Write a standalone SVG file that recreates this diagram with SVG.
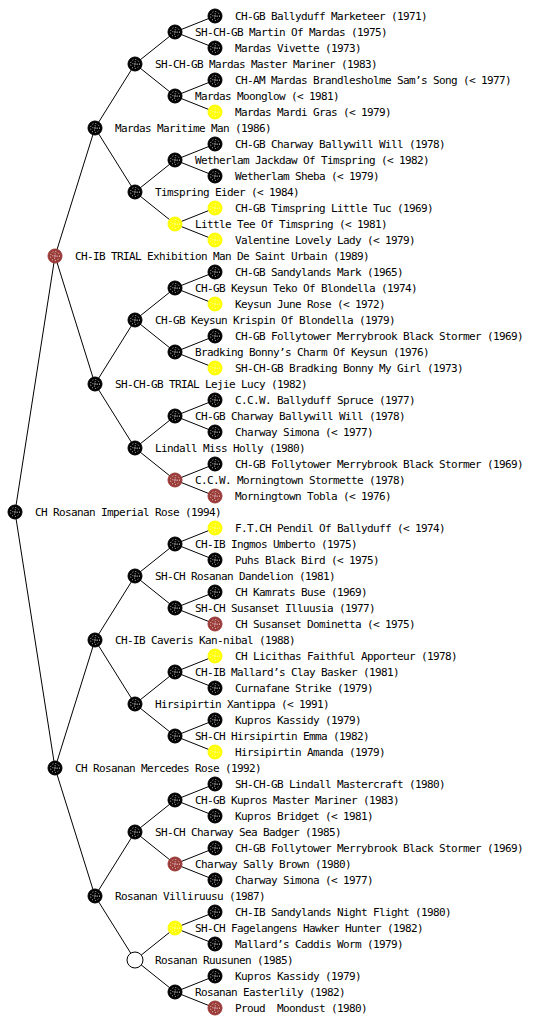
<svg xmlns="http://www.w3.org/2000/svg" width="560" height="1024" viewBox="0 0 560 1024">
<style>
text{font-family:"DejaVu Sans Mono","Liberation Mono",monospace;font-size:11px;letter-spacing:-0.62px;fill:#000}
.n{stroke:#000;stroke-width:1}
.b{fill:#000}
.y{fill:#ffff00;stroke:#ffff00}
.r{fill:#9b3b38;stroke:#9b3b38}
.w{fill:#fff}
.d{fill:none;stroke:#fff;stroke-width:0.8;stroke-dasharray:1 2}
.c{fill:none;stroke:#000;stroke-width:1}
</style>
<defs>
<g id="dots"><circle r="4.5" class="d"/><circle r="2.2" class="d"/><circle r="0.7" fill="#fff"/></g>
</defs>
<rect width="560" height="1024" fill="#fff"/>
<g id="connectors">
<path class="c" d="M15 512L55 256M15 512L55 768
M55 256L95 128M55 256L95 384M55 768L95 640M55 768L95 896
M95 128L135 64M95 128L135 192M95 384L135 320M95 384L135 448M95 640L135 576M95 640L135 704M95 896L135 832M95 896L135 960
M135 64L175 32M135 64L175 96M135 192L175 160M135 192L175 224M135 320L175 288M135 320L175 352M135 448L175 416M135 448L175 480
M135 576L175 544M135 576L175 608M135 704L175 672M135 704L175 736M135 832L175 800M135 832L175 864M135 960L175 928M135 960L175 992
M175 32L215 16M175 32L215 48M175 96L215 80M175 96L215 112M175 160L215 144M175 160L215 176M175 224L215 208M175 224L215 240
M175 288L215 272M175 288L215 304M175 352L215 336M175 352L215 368M175 416L215 400M175 416L215 432M175 480L215 464M175 480L215 496
M175 544L215 528M175 544L215 560M175 608L215 592M175 608L215 624M175 672L215 656M175 672L215 688M175 736L215 720M175 736L215 752
M175 800L215 784M175 800L215 816M175 864L215 848M175 864L215 880M175 928L215 912M175 928L215 944M175 992L215 976M175 992L215 1008"/>
</g>
<g id="n-root"><circle cx="15" cy="512" r="7" class="n b"/><use href="#dots" x="15" y="512"/><text x="35" y="516">CH Rosanan Imperial Rose (1994)</text></g>
<g id="n-s"><circle cx="55" cy="256" r="7" class="r"/><use href="#dots" x="55" y="256"/><text x="75" y="260">CH-IB TRIAL Exhibition Man De Saint Urbain (1989)</text></g>
<g id="n-d"><circle cx="55" cy="768" r="7" class="n b"/><use href="#dots" x="55" y="768"/><text x="75" y="772">CH Rosanan Mercedes Rose (1992)</text></g>
<g id="n-ss"><circle cx="95" cy="128" r="7" class="n b"/><use href="#dots" x="95" y="128"/><text x="115" y="132">Mardas Maritime Man (1986)</text></g>
<g id="n-sd"><circle cx="95" cy="384" r="7" class="n b"/><use href="#dots" x="95" y="384"/><text x="115" y="388">SH-CH-GB TRIAL Lejie Lucy (1982)</text></g>
<g id="n-ds"><circle cx="95" cy="640" r="7" class="n b"/><use href="#dots" x="95" y="640"/><text x="115" y="644">CH-IB Caveris Kan-nibal (1988)</text></g>
<g id="n-dd"><circle cx="95" cy="896" r="7" class="n b"/><use href="#dots" x="95" y="896"/><text x="115" y="900">Rosanan Villiruusu (1987)</text></g>
<g id="n-l3-1"><circle cx="135" cy="64" r="7" class="n b"/><use href="#dots" x="135" y="64"/><text x="155" y="68">SH-CH-GB Mardas Master Mariner (1983)</text></g>
<g id="n-l3-2"><circle cx="135" cy="192" r="7" class="n b"/><use href="#dots" x="135" y="192"/><text x="155" y="196">Timspring Eider (&lt; 1984)</text></g>
<g id="n-l3-3"><circle cx="135" cy="320" r="7" class="n b"/><use href="#dots" x="135" y="320"/><text x="155" y="324">CH-GB Keysun Krispin Of Blondella (1979)</text></g>
<g id="n-l3-4"><circle cx="135" cy="448" r="7" class="n b"/><use href="#dots" x="135" y="448"/><text x="155" y="452">Lindall Miss Holly (1980)</text></g>
<g id="n-l3-5"><circle cx="135" cy="576" r="7" class="n b"/><use href="#dots" x="135" y="576"/><text x="155" y="580">SH-CH Rosanan Dandelion (1981)</text></g>
<g id="n-l3-6"><circle cx="135" cy="704" r="7" class="n b"/><use href="#dots" x="135" y="704"/><text x="155" y="708">Hirsipirtin Xantippa (&lt; 1991)</text></g>
<g id="n-l3-7"><circle cx="135" cy="832" r="7" class="n b"/><use href="#dots" x="135" y="832"/><text x="155" y="836">SH-CH Charway Sea Badger (1985)</text></g>
<g id="n-l3-8"><circle cx="135" cy="960" r="8" class="n w"/><text x="155" y="964">Rosanan Ruusunen (1985)</text></g>
<g id="n-l4-1"><circle cx="175" cy="32" r="7" class="n b"/><use href="#dots" x="175" y="32"/><text x="195" y="36">SH-CH-GB Martin Of Mardas (1975)</text></g>
<g id="n-l4-2"><circle cx="175" cy="96" r="7" class="n b"/><use href="#dots" x="175" y="96"/><text x="195" y="100">Mardas Moonglow (&lt; 1981)</text></g>
<g id="n-l4-3"><circle cx="175" cy="160" r="7" class="n b"/><use href="#dots" x="175" y="160"/><text x="195" y="164">Wetherlam Jackdaw Of Timspring (&lt; 1982)</text></g>
<g id="n-l4-4"><circle cx="175" cy="224" r="7" class="y"/><use href="#dots" x="175" y="224"/><text x="195" y="228">Little Tee Of Timspring (&lt; 1981)</text></g>
<g id="n-l4-5"><circle cx="175" cy="288" r="7" class="n b"/><use href="#dots" x="175" y="288"/><text x="195" y="292">CH-GB Keysun Teko Of Blondella (1974)</text></g>
<g id="n-l4-6"><circle cx="175" cy="352" r="7" class="n b"/><use href="#dots" x="175" y="352"/><text x="195" y="356">Bradking Bonny’s Charm Of Keysun (1976)</text></g>
<g id="n-l4-7"><circle cx="175" cy="416" r="7" class="n b"/><use href="#dots" x="175" y="416"/><text x="195" y="420">CH-GB Charway Ballywill Will (1978)</text></g>
<g id="n-l4-8"><circle cx="175" cy="480" r="7" class="r"/><use href="#dots" x="175" y="480"/><text x="195" y="484">C.C.W. Morningtown Stormette (1978)</text></g>
<g id="n-l4-9"><circle cx="175" cy="544" r="7" class="n b"/><use href="#dots" x="175" y="544"/><text x="195" y="548">CH-IB Ingmos Umberto (1975)</text></g>
<g id="n-l4-10"><circle cx="175" cy="608" r="7" class="n b"/><use href="#dots" x="175" y="608"/><text x="195" y="612">SH-CH Susanset Illuusia (1977)</text></g>
<g id="n-l4-11"><circle cx="175" cy="672" r="7" class="n b"/><use href="#dots" x="175" y="672"/><text x="195" y="676">CH-IB Mallard’s Clay Basker (1981)</text></g>
<g id="n-l4-12"><circle cx="175" cy="736" r="7" class="n b"/><use href="#dots" x="175" y="736"/><text x="195" y="740">SH-CH Hirsipirtin Emma (1982)</text></g>
<g id="n-l4-13"><circle cx="175" cy="800" r="7" class="n b"/><use href="#dots" x="175" y="800"/><text x="195" y="804">CH-GB Kupros Master Mariner (1983)</text></g>
<g id="n-l4-14"><circle cx="175" cy="864" r="7" class="r"/><use href="#dots" x="175" y="864"/><text x="195" y="868">Charway Sally Brown (1980)</text></g>
<g id="n-l4-15"><circle cx="175" cy="928" r="7" class="y"/><use href="#dots" x="175" y="928"/><text x="195" y="932">SH-CH Fagelangens Hawker Hunter (1982)</text></g>
<g id="n-l4-16"><circle cx="175" cy="992" r="7" class="n b"/><use href="#dots" x="175" y="992"/><text x="195" y="996">Rosanan Easterlily (1982)</text></g>
<g id="n-l5-1"><circle cx="215" cy="16" r="7" class="n b"/><use href="#dots" x="215" y="16"/><text x="235" y="20">CH-GB Ballyduff Marketeer (1971)</text></g>
<g id="n-l5-2"><circle cx="215" cy="48" r="7" class="n b"/><use href="#dots" x="215" y="48"/><text x="235" y="52">Mardas Vivette (1973)</text></g>
<g id="n-l5-3"><circle cx="215" cy="80" r="7" class="n b"/><use href="#dots" x="215" y="80"/><text x="235" y="84">CH-AM Mardas Brandlesholme Sam’s Song (&lt; 1977)</text></g>
<g id="n-l5-4"><circle cx="215" cy="112" r="7" class="y"/><use href="#dots" x="215" y="112"/><text x="235" y="116">Mardas Mardi Gras (&lt; 1979)</text></g>
<g id="n-l5-5"><circle cx="215" cy="144" r="7" class="n b"/><use href="#dots" x="215" y="144"/><text x="235" y="148">CH-GB Charway Ballywill Will (1978)</text></g>
<g id="n-l5-6"><circle cx="215" cy="176" r="7" class="n b"/><use href="#dots" x="215" y="176"/><text x="235" y="180">Wetherlam Sheba (&lt; 1979)</text></g>
<g id="n-l5-7"><circle cx="215" cy="208" r="7" class="y"/><use href="#dots" x="215" y="208"/><text x="235" y="212">CH-GB Timspring Little Tuc (1969)</text></g>
<g id="n-l5-8"><circle cx="215" cy="240" r="7" class="y"/><use href="#dots" x="215" y="240"/><text x="235" y="244">Valentine Lovely Lady (&lt; 1979)</text></g>
<g id="n-l5-9"><circle cx="215" cy="272" r="7" class="n b"/><use href="#dots" x="215" y="272"/><text x="235" y="276">CH-GB Sandylands Mark (1965)</text></g>
<g id="n-l5-10"><circle cx="215" cy="304" r="7" class="y"/><use href="#dots" x="215" y="304"/><text x="235" y="308">Keysun June Rose (&lt; 1972)</text></g>
<g id="n-l5-11"><circle cx="215" cy="336" r="7" class="n b"/><use href="#dots" x="215" y="336"/><text x="235" y="340">CH-GB Follytower Merrybrook Black Stormer (1969)</text></g>
<g id="n-l5-12"><circle cx="215" cy="368" r="7" class="y"/><use href="#dots" x="215" y="368"/><text x="235" y="372">SH-CH-GB Bradking Bonny My Girl (1973)</text></g>
<g id="n-l5-13"><circle cx="215" cy="400" r="7" class="n b"/><use href="#dots" x="215" y="400"/><text x="235" y="404">C.C.W. Ballyduff Spruce (1977)</text></g>
<g id="n-l5-14"><circle cx="215" cy="432" r="7" class="n b"/><use href="#dots" x="215" y="432"/><text x="235" y="436">Charway Simona (&lt; 1977)</text></g>
<g id="n-l5-15"><circle cx="215" cy="464" r="7" class="n b"/><use href="#dots" x="215" y="464"/><text x="235" y="468">CH-GB Follytower Merrybrook Black Stormer (1969)</text></g>
<g id="n-l5-16"><circle cx="215" cy="496" r="7" class="r"/><use href="#dots" x="215" y="496"/><text x="235" y="500">Morningtown Tobla (&lt; 1976)</text></g>
<g id="n-l5-17"><circle cx="215" cy="528" r="7" class="y"/><use href="#dots" x="215" y="528"/><text x="235" y="532">F.T.CH Pendil Of Ballyduff (&lt; 1974)</text></g>
<g id="n-l5-18"><circle cx="215" cy="560" r="7" class="n b"/><use href="#dots" x="215" y="560"/><text x="235" y="564">Puhs Black Bird (&lt; 1975)</text></g>
<g id="n-l5-19"><circle cx="215" cy="592" r="7" class="n b"/><use href="#dots" x="215" y="592"/><text x="235" y="596">CH Kamrats Buse (1969)</text></g>
<g id="n-l5-20"><circle cx="215" cy="624" r="7" class="r"/><use href="#dots" x="215" y="624"/><text x="235" y="628">CH Susanset Dominetta (&lt; 1975)</text></g>
<g id="n-l5-21"><circle cx="215" cy="656" r="7" class="y"/><use href="#dots" x="215" y="656"/><text x="235" y="660">CH Licithas Faithful Apporteur (1978)</text></g>
<g id="n-l5-22"><circle cx="215" cy="688" r="7" class="n b"/><use href="#dots" x="215" y="688"/><text x="235" y="692">Curnafane Strike (1979)</text></g>
<g id="n-l5-23"><circle cx="215" cy="720" r="7" class="n b"/><use href="#dots" x="215" y="720"/><text x="235" y="724">Kupros Kassidy (1979)</text></g>
<g id="n-l5-24"><circle cx="215" cy="752" r="7" class="y"/><use href="#dots" x="215" y="752"/><text x="235" y="756">Hirsipirtin Amanda (1979)</text></g>
<g id="n-l5-25"><circle cx="215" cy="784" r="7" class="n b"/><use href="#dots" x="215" y="784"/><text x="235" y="788">SH-CH-GB Lindall Mastercraft (1980)</text></g>
<g id="n-l5-26"><circle cx="215" cy="816" r="7" class="n b"/><use href="#dots" x="215" y="816"/><text x="235" y="820">Kupros Bridget (&lt; 1981)</text></g>
<g id="n-l5-27"><circle cx="215" cy="848" r="7" class="n b"/><use href="#dots" x="215" y="848"/><text x="235" y="852">CH-GB Follytower Merrybrook Black Stormer (1969)</text></g>
<g id="n-l5-28"><circle cx="215" cy="880" r="7" class="n b"/><use href="#dots" x="215" y="880"/><text x="235" y="884">Charway Simona (&lt; 1977)</text></g>
<g id="n-l5-29"><circle cx="215" cy="912" r="7" class="n b"/><use href="#dots" x="215" y="912"/><text x="235" y="916">CH-IB Sandylands Night Flight (1980)</text></g>
<g id="n-l5-30"><circle cx="215" cy="944" r="7" class="n b"/><use href="#dots" x="215" y="944"/><text x="235" y="948">Mallard’s Caddis Worm (1979)</text></g>
<g id="n-l5-31"><circle cx="215" cy="976" r="7" class="n b"/><use href="#dots" x="215" y="976"/><text x="235" y="980">Kupros Kassidy (1979)</text></g>
<g id="n-l5-32"><circle cx="215" cy="1008" r="7" class="r"/><use href="#dots" x="215" y="1008"/><text x="235" y="1012" xml:space="preserve">Proud  Moondust (1980)</text></g>
</svg>
